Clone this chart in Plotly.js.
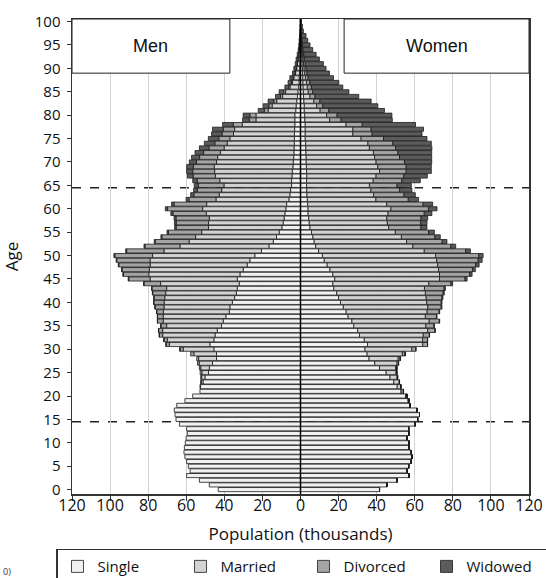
<!DOCTYPE html>
<html>
<head>
<meta charset="utf-8">
<script src="https://cdn.plot.ly/plotly-3.0.1.min.js"></script>
<style>html,body{margin:0;padding:0;background:#fff;}#chart{width:546px;height:578px;}</style>
</head>
<body>
<div id="chart"></div>
<script>
// Ages 0..100
const ages = [0,1,2,3,4,5,6,7,8,9,10,11,12,13,14,15,16,17,18,19,20,21,22,23,24,25,26,27,28,29,30,31,32,33,34,35,36,37,38,39,40,41,42,43,44,45,46,47,48,49,50,51,52,53,54,55,56,57,58,59,60,61,62,63,64,65,66,67,68,69,70,71,72,73,74,75,76,77,78,79,80,81,82,83,84,85,86,87,88,89,90,91,92,93,94,95,96,97,98,99,100];

// Men (thousands), index = age
const menSingle = [43.2,47.9,53.1,59.8,58.0,58.9,59.8,60.7,61.2,61.0,60.5,60.1,59.4,59.8,63.6,65.4,65.9,66.3,65.0,60.7,56.6,52.8,52.5,51.2,50.2,48.3,47.9,46.2,44.1,44.1,45.5,47.6,45.5,44.9,43.7,41.5,40.6,39.2,37.4,37.1,35.8,34.6,33.7,33.2,32.2,33.2,31.8,30.1,28.0,26.6,24.0,20.5,16.6,14.3,12.6,11.2,9.8,9.1,8.6,8.2,7.7,7.3,6.1,5.6,5.2,4.7,4.7,4.5,4.3,4.0,3.8,3.6,3.5,3.4,3.3,3.2,3.2,3.1,3.0,3.0,3.0,2.5,2.3,2.0,1.6,1.4,1.0,0.8,0.7,0.5,0.4,0.3,0.3,0.2,0.1,0.1,0.05,0.05,0.03,0,0];
const menMarried = [0,0,0,0,0,0,0,0,0,0,0,0,0,0,0,0,0,0,0,0,0,0,0.3,0.9,1.7,3.5,4.5,7.0,9.4,11.9,16.1,21.3,24.5,27.5,28.7,28.8,31.5,32.9,34.6,34.6,35.8,36.7,37.1,37.1,41.3,45.8,47.9,49.3,51.0,52.4,53.7,51.2,46.7,44.2,42.5,40.7,38.5,39.2,39.3,41.3,43.7,42.0,38.3,37.1,36.2,35.5,37.7,40.2,40.8,41.3,40.3,39.9,38.6,36.7,35.2,33.9,32.0,31.5,27.6,20.4,20.4,14.5,12.6,10.5,7.8,6.4,4.5,3.4,2.8,2.1,1.6,1.3,0.9,0.7,0.5,0.35,0.3,0.25,0.12,0.1,0.05];
const menDivorced = [0,0,0,0,0,0,0,0,0,0,0,0,0,0,0,0,0,0,0,0,0,0,0,0.3,0.5,0.9,0.7,0.9,1.0,1.7,1.7,1.7,1.7,1.7,2.1,3.0,3.0,3.0,3.5,4.7,5.4,5.6,6.8,7.7,8.7,11.2,13.3,14.3,16.4,17.5,19.8,19.6,18.4,17.8,17.7,17.5,17.0,17.0,17.5,17.5,18.4,17.1,14.2,13.3,12.8,13.5,11.9,11.7,11.5,11.0,10.5,9.5,8.8,8.0,6.5,5.8,6.0,6.0,4.7,3.5,3.2,2.0,1.7,1.5,1.1,1.0,0.7,0.5,0.5,0.3,0.3,0.2,0.2,0.1,0.1,0.05,0.05,0,0,0,0];
const menWidowed = [0,0,0,0,0,0,0,0,0,0,0,0,0,0,0,0,0,0,0,0,0,0,0,0,0,0,0,0,0,0,0.1,0.1,0.1,0.1,0.1,0.1,0.1,0.1,0.1,0.1,0.2,0.2,0.2,0.2,0.2,0.3,0.3,0.3,0.3,0.3,0.5,0.5,0.5,0.5,0.5,0.7,0.8,0.9,1.0,1.1,1.2,1.3,1.5,1.7,1.9,2.1,2.3,3.0,3.2,3.5,3.8,4.2,4.5,5.0,5.5,5.5,5.5,5.6,5.6,3.5,3.5,3.2,3.0,3.0,2.6,2.4,2.0,1.8,1.6,1.3,1.2,1.0,0.9,0.7,0.5,0.4,0.3,0.2,0.15,0.1,0.05];

// Women (thousands), index = age
const womenSingle = [41.5,45.4,50.6,57.1,55.9,56.8,58.2,58.5,58.2,57.1,57.1,55.9,57.1,56.8,60.3,61.5,62.5,61.1,57.6,56.6,55.4,52.9,50.8,49.0,47.0,45.0,41.5,39.0,36.0,35.0,33.9,35.2,33.5,31.0,30.0,28.0,27.0,25.0,24.0,22.5,21.0,20.0,19.0,17.5,17.0,18.0,17.0,15.5,14.0,12.5,11.5,9.5,8.0,7.2,6.5,5.8,5.0,4.6,4.3,4.0,4.0,3.8,3.6,3.4,3.3,3.2,3.2,3.3,3.2,3.1,3.0,3.0,2.9,2.8,2.7,2.5,2.5,2.5,2.5,2.3,2.2,2.0,2.0,1.8,1.6,1.5,1.4,1.3,1.2,1.1,1.0,0.9,0.8,0.7,0.6,0.5,0.4,0.3,0.15,0.1,0.05];
const womenMarried = [0,0,0,0,0,0,0,0,0,0,0,0,0,0,0,0,0,0,0,0.3,0.5,1.1,1.8,2.8,3.7,5.2,8.5,11.7,15.3,18.5,24.6,29.0,30.6,33.5,36.8,37.8,40.6,40.6,42.5,44.4,45.3,46.0,46.6,47.6,50.4,55.0,56.0,57.0,58.0,59.0,59.5,55.5,51.0,48.5,46.5,44.0,41.3,41.0,41.0,42.0,43.5,41.5,36.0,35.0,33.7,33.0,35.0,36.4,38.3,37.5,36.7,35.9,35.4,33.4,32.7,29.3,25.0,25.0,21.4,13.0,11.5,8.3,6.5,5.2,3.4,2.6,2.2,1.8,1.4,1.1,0.9,0.7,0.5,0.4,0.3,0.2,0.15,0.1,0.05,0.03,0.01];
const womenDivorced = [0,0,0,0,0,0,0,0,0,0,0,0,0,0,0,0,0,0,0,0,0,0.1,0.1,0.2,0.3,0.4,0.6,0.8,1.1,1.5,2.1,2.5,2.6,3.2,3.8,4.3,5.3,5.8,6.3,7.0,7.6,8.3,9.3,10.3,11.6,13.4,15.8,17.8,20.0,21.8,22.6,21.8,20.0,18.7,17.6,17.5,17.0,17.5,18.0,19.0,19.7,19.1,17.0,16.0,15.0,14.5,15.0,14.5,14.0,14.9,14.9,13.1,12.8,13.7,13.1,11.8,10.1,9.6,8.5,6.0,5.5,4.6,3.2,3.2,2.6,2.3,2.1,1.8,1.4,1.2,1.0,0.9,0.7,0.6,0.5,0.4,0.3,0.2,0.1,0.05,0.03];
const womenWidowed = [0,0,0,0,0,0,0,0,0,0,0,0,0,0,0,0,0,0,0,0,0,0,0,0,0,0,0,0,0,0,0,0.1,0.1,0.1,0.2,0.2,0.2,0.3,0.3,0.4,0.4,0.5,0.6,0.7,0.9,1.1,1.3,1.5,1.8,2.1,2.3,2.4,2.5,2.5,2.8,3.0,3.1,3.3,3.5,4.0,4.5,5.0,5.4,5.9,6.5,7.5,9.7,12.4,13.2,13.2,14.3,16.9,17.8,19.1,20.2,22.8,26.2,27.5,28.0,26.9,28.8,29.2,28.9,26.9,23.0,19.0,16.5,15.2,13.3,11.8,10.5,9.5,7.9,6.5,5.0,3.9,2.95,2.3,1.2,0.82,0.41];

const statusNames = ['Single','Married','Divorced','Widowed'];
const statusColors = ['#f1f1f1','#d3d3d3','#a4a4a4','#5c5c5c'];
const menSeries = [menSingle, menMarried, menDivorced, menWidowed];
const womenSeries = [womenSingle, womenMarried, womenDivorced, womenWidowed];

const xTicks = [-120,-100,-80,-60,-40,-20,0,20,40,60,80,100,120];
const xTickText = ['120','100','80','60','40','20','0','20','40','60','80','100','120'];
const yTicks = [0,5,10,15,20,25,30,35,40,45,50,55,60,65,70,75,80,85,90,95,100];

const FONT = 'Open Sans, Noto Sans, DejaVu Sans, sans-serif';
const traces = [];
for (let i = 0; i < 4; i++) {
  traces.push({
    type: 'bar', orientation: 'h', name: statusNames[i], legendgroup: statusNames[i],
    y: ages, x: menSeries[i].map(v => -v),
    marker: {color: statusColors[i], line: {color: '#1a1a1a', width: 0.8}},
    showlegend: true, hoverinfo: 'skip'
  });
  traces.push({
    type: 'bar', orientation: 'h', name: statusNames[i], legendgroup: statusNames[i],
    y: ages, x: womenSeries[i],
    marker: {color: statusColors[i], line: {color: '#1a1a1a', width: 0.8}},
    showlegend: false, hoverinfo: 'skip'
  });
}

const layout = {
  width: 546, height: 578,
  margin: {l: 72, r: 17, t: 19, b: 84, autoexpand: false},
  paper_bgcolor: '#ffffff', plot_bgcolor: '#ffffff',
  barmode: 'relative', bargap: 0.12,
  font: {family: FONT, color: '#111'},
  xaxis: {
    range: [-120, 120], tickmode: 'array', tickvals: xTicks, ticktext: xTickText,
    showgrid: true, gridcolor: '#d2d2d2', gridwidth: 1, zeroline: false,
    showline: true, mirror: true, linecolor: '#333', linewidth: 1.5,
    ticks: 'outside', ticklen: 5, tickcolor: '#333', automargin: false,
    ticklabelstandoff: -9,
    tickfont: {family: FONT, size: 16, color: '#111'},
    title: {text: 'Population (thousands)', font: {family: FONT, size: 17, color: '#111'}, standoff: 13}
  },
  yaxis: {
    range: [-0.94, 100.55], tickmode: 'array', tickvals: yTicks,
    showgrid: false, zeroline: false, automargin: false,
    showline: true, mirror: true, linecolor: '#333', linewidth: 1.5,
    ticks: 'outside', ticklen: 4, tickcolor: '#333', ticklabelstandoff: 3,
    tickfont: {family: FONT, size: 15, color: '#111'},
    title: {text: 'Age', font: {family: FONT, size: 17, color: '#111'}, standoff: 12}
  },
  legend: {
    orientation: 'h', x: -0.035, y: -0.115, xanchor: 'left', yanchor: 'top',
    bordercolor: '#333', borderwidth: 1.5, bgcolor: '#fff',
    font: {family: FONT, size: 15, color: '#111'}, traceorder: 'normal', itemwidth: 30,
    entrywidth: 78, entrywidthmode: 'pixels'
  },
  shapes: [
    {type: 'line', xref: 'x', yref: 'y', x0: -120, x1: 120, y0: 14.5, y1: 14.5, layer: 'below', line: {color: '#222', width: 1.5, dash: 'dash'}},
    {type: 'line', xref: 'x', yref: 'y', x0: -120, x1: 120, y0: 64.5, y1: 64.5, layer: 'below', line: {color: '#222', width: 1.5, dash: 'dash'}},
    {type: 'line', xref: 'x', yref: 'paper', x0: 0, x1: 0, y0: 0, y1: 1, layer: 'above', line: {color: '#000', width: 1.5}},
    {type: 'rect', xref: 'x', yref: 'paper', x0: -120, x1: -37.1, y0: 0.886, y1: 1, layer: 'above', fillcolor: '#fff', line: {color: '#222', width: 1}},
    {type: 'rect', xref: 'x', yref: 'paper', x0: 22.9, x1: 120, y0: 0.886, y1: 1, layer: 'above', fillcolor: '#fff', line: {color: '#222', width: 1}}
  ],
  annotations: [
    {text: 'Men', xref: 'x', yref: 'paper', x: -78.7, y: 0.943, xanchor: 'center', yanchor: 'middle', showarrow: false, font: {family: 'Liberation Sans, Arial, sans-serif', size: 18, color: '#111'}},
    {text: 'Women', xref: 'x', yref: 'paper', x: 71.6, y: 0.943, xanchor: 'center', yanchor: 'middle', showarrow: false, font: {family: 'Liberation Sans, Arial, sans-serif', size: 18, color: '#111'}},
    {text: '0)', xref: 'paper', yref: 'paper', x: -0.156, y: -0.163, xanchor: 'left', yanchor: 'middle', showarrow: false, font: {family: FONT, size: 9, color: '#333'}}
  ]
};

Plotly.newPlot('chart', traces, layout, {displayModeBar: false, staticPlot: true});
</script>
</body>
</html>
